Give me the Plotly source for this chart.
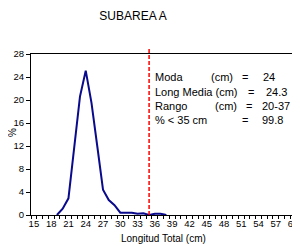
import plotly.graph_objects as go

longitud = [19, 20, 21, 22, 23, 24, 25, 26, 27, 28, 29, 30, 31, 32, 33, 34, 35, 36, 37, 38]
porcentaje = [0.0, 1.1, 2.9, 11.5, 20.6, 25.1, 19.5, 12.0, 4.4, 2.6, 1.7, 0.4, 0.4, 0.4, 0.2, 0.3, 0.0, 0.2, 0.2, 0.0]
x_ticks = list(range(15, 61, 3))
y_ticks = list(range(0, 29, 4))
talla_limite = 35

OFF = 8  # default page body margin
W, H = 300 - OFF, 246 - OFF
L, R, T, B = 31 - OFF, 4, 54 - OFF, 31
pw, ph = W - L - R, H - T - B

def px(x):
    return (x - OFF - L) / pw

def py(y):
    return 1 - (y - OFF - T) / ph

FONT = "Liberation Sans, Arial"

fig = go.Figure()
fig.add_trace(go.Scatter(x=longitud, y=porcentaje, mode="lines",
                         line=dict(color="#0a0a8c", width=2), hoverinfo="skip"))

fig.add_shape(type="line", xref="x", yref="paper", x0=talla_limite, x1=talla_limite,
              y0=0, y1=py(48), line=dict(color="#ff0000", width=1.5, dash="4px,2px"))

font = dict(family=FONT, size=11, color="#000")
pieces = [
    (77, [("Moda", 153, "left"), ("(cm)", 209, "left"), ("=", 245, "center"), ("24", 277, "right")]),
    (92, [("Long Media (cm)", 153, "left"), ("=", 251, "center"), ("24.3", 289, "right")]),
    (106, [("Rango", 153, "left"), ("(cm)", 213, "left"), ("=", 249, "center"), ("20-37", 292, "right")]),
    (120, [("% < 35 cm", 153, "left"), ("=", 245, "center"), ("99.8", 285, "right")]),
]
for yy, items in pieces:
    for txt, xx, anc in items:
        fig.add_annotation(text=txt, xref="paper", yref="paper", x=px(xx), y=py(yy),
                           xanchor=anc, yanchor="middle", showarrow=False, font=font)

fig.add_annotation(text="Longitud Total (cm)", xref="paper", yref="paper", x=px(163), y=py(238),
                   xanchor="center", yanchor="middle", showarrow=False,
                   font=dict(family=FONT, size=10, color="#000"))
fig.add_annotation(text="%", xref="paper", yref="paper", x=px(13), y=py(133), textangle=-90,
                   xanchor="center", yanchor="middle", showarrow=False,
                   font=dict(family=FONT, size=10, color="#000"))

fig.update_layout(
    width=W, height=H,
    margin=dict(l=L, r=R, t=T, b=B, autoexpand=False),
    paper_bgcolor="white", plot_bgcolor="white",
    showlegend=False,
    title=dict(text="SUBAREA A", x=(133 - OFF) / W, xanchor="center", y=1 - (16 - OFF) / H,
               yanchor="middle", font=dict(family=FONT, size=12, color="#000")),
    xaxis=dict(range=[14.5, 60.5], tickvals=x_ticks, ticktext=[str(v) for v in x_ticks],
               ticks="", showgrid=False, zeroline=False, showline=True, linecolor="#000",
               linewidth=1, mirror=True, automargin=False, ticklabeloverflow="allow",
               minor=dict(ticks="outside", tick0=14.5, dtick=1, ticklen=3, tickcolor="#000", showgrid=False),
               tickfont=dict(family=FONT, size=9.5, color="#000")),
    yaxis=dict(range=[0, 28], tickvals=y_ticks, ticks="outside", ticklen=4, tickcolor="#000",
               showgrid=False, zeroline=False, showline=True, linecolor="#000", linewidth=1,
               mirror=True, automargin=False,
               tickfont=dict(family=FONT, size=9.5, color="#000")),
)

fig.write_html("out.html")
